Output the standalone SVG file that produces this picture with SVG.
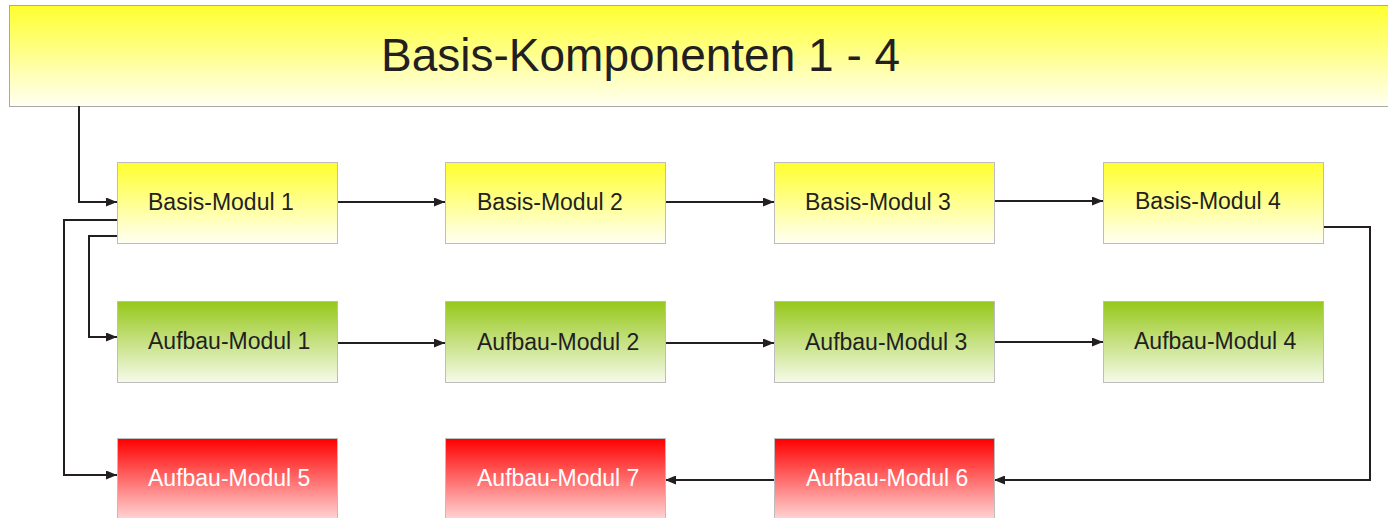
<svg xmlns="http://www.w3.org/2000/svg" width="1388" height="518" viewBox="0 0 1388 518">
<defs>
<linearGradient id="gy" x1="0" y1="0" x2="0" y2="1"><stop offset="0" stop-color="#ffff2e"/><stop offset="1" stop-color="#fffff4"/></linearGradient>
<linearGradient id="gg" x1="0" y1="0" x2="0" y2="1"><stop offset="0" stop-color="#96c81a"/><stop offset="1" stop-color="#f6faea"/></linearGradient>
<linearGradient id="gr" x1="0" y1="0" x2="0" y2="1"><stop offset="0" stop-color="#ff0000"/><stop offset="1" stop-color="#ffe0e0"/></linearGradient>
<marker id="ah" markerWidth="11" markerHeight="9" refX="11" refY="4.5" orient="auto" markerUnits="userSpaceOnUse"><path d="M0,0 L11,4.5 L0,9 Z" fill="#231f20"/></marker>
<style>
.box{stroke:#bdbdbd;stroke-width:1}
.t{font-family:"Liberation Sans",Arial,sans-serif;font-size:23px;fill:#231f20}
.tw{font-family:"Liberation Sans",Arial,sans-serif;font-size:23px;fill:#ffffff}
.c{fill:none;stroke:#231f20;stroke-width:2}
</style>
</defs>
<rect width="1388" height="518" fill="#ffffff"/>
<g id="header">
<rect x="9.5" y="5.5" width="1390" height="101" fill="url(#gy)" stroke="#a8a8a8" stroke-width="1"/>
<text x="381" y="71" font-family="Liberation Sans, Arial, sans-serif" font-size="46" fill="#231f20">Basis-Komponenten 1 - 4</text>
</g>
<g id="connectors">
<path class="c" d="M79,106 V202 H117" marker-end="url(#ah)"/>
<path class="c" d="M337,202 H445" marker-end="url(#ah)"/>
<path class="c" d="M665,202 H774" marker-end="url(#ah)"/>
<path class="c" d="M994,201 H1103" marker-end="url(#ah)"/>
<path class="c" d="M117,220 H64 V475 H117" marker-end="url(#ah)"/>
<path class="c" d="M117,236 H89 V337 H117" marker-end="url(#ah)"/>
<path class="c" d="M337,343 H445" marker-end="url(#ah)"/>
<path class="c" d="M665,343 H774" marker-end="url(#ah)"/>
<path class="c" d="M994,342 H1103" marker-end="url(#ah)"/>
<path class="c" d="M1323,227 H1370 V480 H994" marker-end="url(#ah)"/>
<path class="c" d="M774,480 H665" marker-end="url(#ah)"/>
</g>
<g id="basis1"><rect class="box" x="117.5" y="162.5" width="220" height="81" fill="url(#gy)"/><text class="t" x="148" y="210">Basis-Modul 1</text></g>
<g id="basis2"><rect class="box" x="445.5" y="162.5" width="220" height="81" fill="url(#gy)"/><text class="t" x="477" y="210">Basis-Modul 2</text></g>
<g id="basis3"><rect class="box" x="774.5" y="162.5" width="220" height="81" fill="url(#gy)"/><text class="t" x="805" y="210">Basis-Modul 3</text></g>
<g id="basis4"><rect class="box" x="1103.5" y="162.5" width="220" height="81" fill="url(#gy)"/><text class="t" x="1135" y="209">Basis-Modul 4</text></g>
<g id="aufbau1"><rect class="box" x="117.5" y="301.5" width="220" height="81" fill="url(#gg)"/><text class="t" x="148" y="349">Aufbau-Modul 1</text></g>
<g id="aufbau2"><rect class="box" x="445.5" y="301.5" width="220" height="81" fill="url(#gg)"/><text class="t" x="477" y="350">Aufbau-Modul 2</text></g>
<g id="aufbau3"><rect class="box" x="774.5" y="301.5" width="220" height="81" fill="url(#gg)"/><text class="t" x="805" y="350">Aufbau-Modul 3</text></g>
<g id="aufbau4"><rect class="box" x="1103.5" y="301.5" width="220" height="81" fill="url(#gg)"/><text class="t" x="1134" y="349">Aufbau-Modul 4</text></g>
<g id="aufbau5"><rect class="box" x="117.5" y="438.5" width="220" height="85" fill="url(#gr)"/><text class="tw" x="148" y="486">Aufbau-Modul 5</text></g>
<g id="aufbau7"><rect class="box" x="445.5" y="438.5" width="220" height="85" fill="url(#gr)"/><text class="tw" x="477" y="486">Aufbau-Modul 7</text></g>
<g id="aufbau6"><rect class="box" x="774.5" y="438.5" width="220" height="85" fill="url(#gr)"/><text class="tw" x="806" y="486">Aufbau-Modul 6</text></g>
</svg>
